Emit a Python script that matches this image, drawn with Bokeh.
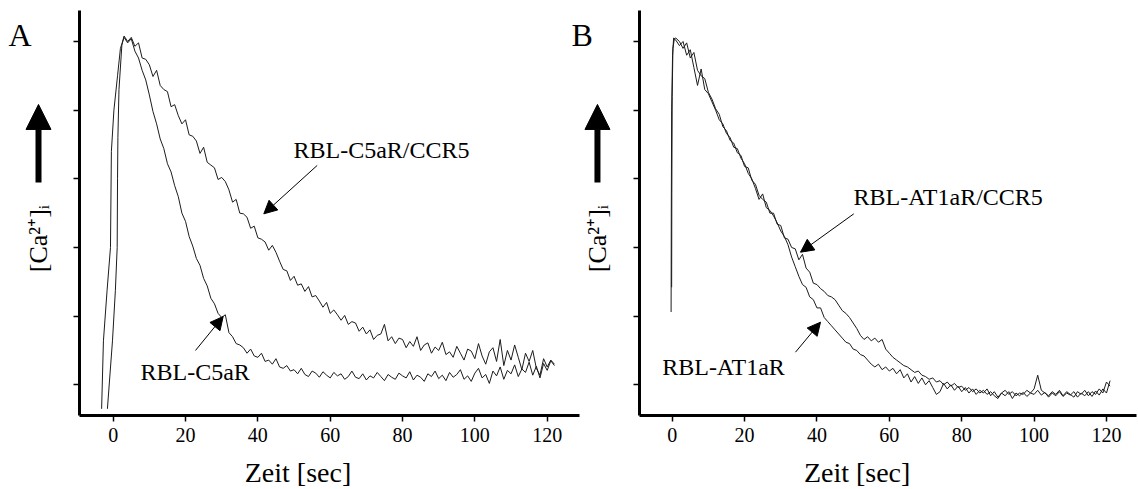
import math
from bokeh.plotting import figure
from bokeh.models import Range1d, Label, Arrow, NormalHead, FixedTicker, LinearAxis
from bokeh.embed import file_html
from bokeh.resources import INLINE

SERIF = "Liberation Serif"

# ---------------- data ----------------
x_ticks = [0, 20, 40, 60, 80, 100, 120]
y_ticks = [0, 1, 2, 3, 4, 5]

# Panel A – rising phase (time in s, relative [Ca2+]i)
a1_rise_t = [-3.2, -2.7, -1.7, -0.75, -0.5, 0.2, 1.2, 2.0]
a1_rise_v = [-0.35, 0.64, 1.37, 2.0, 3.4, 4.0, 4.5, 4.9]
a2_rise_t = [-1.6, -0.2, 0.6, 1.1, 1.2, 1.3, 1.6, 2.4]
a2_rise_v = [-0.35, 0.64, 1.37, 2.0, 3.0, 3.6, 4.3, 4.95]

# Panel A – decay, sampled every second from t = 3 s to t = 122 s
a_decay_t = list(range(3, 123))
a1_decay_v = [  # RBL-C5aR
    5.06, 4.98, 5.04, 4.86, 4.76, 4.58, 4.44, 4.22, 3.98, 3.80,
    3.58, 3.44, 3.22, 3.10, 2.90, 2.74, 2.50, 2.38, 2.16, 2.02,
    1.84, 1.74, 1.55, 1.44, 1.26, 1.18, 1.04, 0.98, 1.02, 0.76,
    0.70, 0.60, 0.58, 0.54, 0.46, 0.52, 0.42, 0.40, 0.46, 0.34,
    0.36, 0.30, 0.38, 0.26, 0.24, 0.28, 0.20, 0.22, 0.16, 0.24,
    0.15, 0.12, 0.20, 0.17, 0.11, 0.19, 0.14, 0.10, 0.18, 0.13,
    0.16, 0.08, 0.12, 0.20, 0.11, 0.09, 0.16, 0.07, 0.13, 0.10,
    0.18, 0.12, 0.06, 0.15, 0.11, 0.08, 0.17, 0.13, 0.10, 0.19,
    0.07, 0.14, 0.11, 0.05, 0.16, 0.12, 0.20, 0.09, 0.14, 0.06,
    0.18, 0.11, 0.15, 0.22, 0.08, 0.13, 0.05, 0.17, 0.24, 0.10,
    0.15, 0.02, 0.20, 0.13, 0.26, 0.08, 0.21, 0.16, 0.29, 0.12,
    0.23, 0.18, 0.33, 0.14, 0.27, 0.10, 0.31, 0.21, 0.35, 0.28,
]
a2_decay_v = [  # RBL-C5aR/CCR5
    5.08, 5.00, 5.06, 4.93, 4.98, 4.76, 4.74, 4.66, 4.49, 4.58,
    4.36, 4.30, 4.27, 4.05, 4.08, 3.92, 3.80, 3.86, 3.64, 3.62,
    3.55, 3.37, 3.46, 3.24, 3.20, 3.16, 2.99, 3.02, 2.96, 2.84,
    2.66, 2.70, 2.50, 2.49, 2.44, 2.28, 2.31, 2.14, 2.12, 2.08,
    1.96, 2.03, 1.93, 1.80, 1.68, 1.66, 1.52, 1.58, 1.45, 1.47,
    1.36, 1.43, 1.28, 1.30, 1.22, 1.13, 1.20, 1.04, 1.09, 1.02,
    0.94, 1.01, 0.88, 0.92, 0.90, 0.78, 0.84, 0.74, 0.80, 0.66,
    0.72, 0.74, 0.88, 0.64, 0.70, 0.60, 0.68, 0.66, 0.54, 0.63,
    0.56, 0.70, 0.50, 0.58, 0.61, 0.46, 0.55, 0.50, 0.62, 0.44,
    0.48, 0.40, 0.56, 0.46, 0.36, 0.52, 0.49, 0.38, 0.60, 0.42,
    0.30, 0.48, 0.54, 0.34, 0.66, 0.28, 0.50, 0.36, 0.58, 0.40,
    0.22, 0.46, 0.34, 0.50, 0.24, 0.14, 0.38, 0.26, 0.36, 0.30,
]

# Panel B – rising phase
b1_rise_t = [-0.3, -0.25, -0.15, 0.1, 0.4]
b1_rise_v = [1.06, 2.5, 4.0, 4.8, 5.05]
b2_rise_t = [-0.15, -0.1, 0.0, 0.2, 0.6]
b2_rise_v = [1.42, 2.8, 4.2, 4.9, 5.04]

# Panel B – decay, sampled every second from t = 1 s to t = 121 s
b_decay_t = list(range(1, 122))
b1_decay_v = [  # RBL-AT1aR
    5.02, 4.94, 5.00, 4.80, 4.88, 4.62, 4.36, 4.60, 4.30, 4.24,
    4.12, 4.00, 3.86, 3.80, 3.66, 3.60, 3.46, 3.44, 3.30, 3.22,
    3.08, 3.00, 2.86, 2.70, 2.78, 2.58, 2.54, 2.46, 2.36, 2.24,
    2.16, 2.04, 1.86, 1.72, 1.58, 1.46, 1.42, 1.28, 1.24, 1.12,
    1.12, 0.98, 0.92, 0.86, 0.80, 0.74, 0.68, 0.62, 0.60, 0.52,
    0.50, 0.44, 0.42, 0.36, 0.30, 0.26, 0.30, 0.22, 0.26, 0.20,
    0.24, 0.16, 0.22, 0.10, 0.16, 0.04, 0.12, 0.02, 0.10, 0.00,
    0.06, -0.04, -0.14, -0.10, 0.02, -0.06, 0.00, -0.08, -0.02, -0.10,
    -0.04, -0.12, -0.06, -0.14, -0.08, -0.12, -0.06, -0.16, -0.10, -0.18,
    -0.12, -0.16, -0.10, -0.20, -0.12, -0.16, -0.11, -0.17, -0.12, -0.14,
    -0.08, -0.15, -0.11, -0.18, -0.12, -0.16, -0.10, -0.17, -0.12, -0.15,
    -0.10, -0.18, -0.12, -0.16, -0.10, -0.17, -0.09, -0.15, -0.06, -0.12,
    0.06,
]
b2_decay_v = [  # RBL-AT1aR/CCR5
    5.05, 5.00, 4.90, 4.98, 4.76, 4.84, 4.58, 4.50, 4.46, 4.26,
    4.16, 4.02, 3.94, 3.76, 3.70, 3.56, 3.52, 3.38, 3.34, 3.18,
    3.16, 2.98, 2.92, 2.76, 2.70, 2.66, 2.50, 2.50, 2.34, 2.32,
    2.14, 2.12, 2.00, 1.98, 1.82, 1.90, 1.70, 1.64, 1.48, 1.46,
    1.40, 1.36, 1.30, 1.28, 1.24, 1.16, 1.08, 1.04, 0.98, 0.90,
    0.82, 0.72, 0.66, 0.70, 0.64, 0.68, 0.62, 0.66, 0.52, 0.46,
    0.40, 0.36, 0.32, 0.28, 0.26, 0.22, 0.18, 0.20, 0.14, 0.12,
    0.08, 0.10, 0.04, 0.06, 0.00, 0.04, -0.02, 0.02, -0.04, -0.02,
    -0.08, -0.04, -0.10, -0.06, -0.12, -0.08, -0.14, -0.10, -0.16, -0.20,
    -0.12, -0.08, -0.14, -0.10, -0.16, -0.12, -0.14, -0.08, -0.12, -0.06,
    0.14, -0.08, -0.12, -0.16, -0.10, -0.14, -0.08, -0.16, -0.10, -0.14,
    -0.18, -0.10, -0.14, -0.08, -0.16, -0.10, -0.14, -0.06, -0.12, 0.04,
    -0.02,
]

panel_letters = ["A", "B"]
y_label = "[Ca\u00b2\u207a]\u1d62"
x_label = "Zeit [sec]"
labels_A = ["RBL-C5aR/CCR5", "RBL-C5aR"]
labels_B = ["RBL-AT1aR/CCR5", "RBL-AT1aR"]

# ---------------- layout ----------------
# One canvas; the frame fills it. Panel A uses the default x range, panel B the
# extra range "B". Both axis pairs sit at fixed data locations with bounds.
A_X = (-9.3, 128.9)
B_X = (-9.03, 128.3)
Y_SPAN = (-0.447, 5.452)

p = figure(width=1138, height=489, output_backend="svg", toolbar_location=None,
           x_range=Range1d(-31.16, 283.49), y_range=Range1d(-1.525, 5.597),
           x_axis_location=None, y_axis_location=None,
           min_border_left=0, min_border_right=0, min_border_top=0, min_border_bottom=0)
p.extra_x_ranges = {"B": Range1d(-185.6, 128.85)}
p.outline_line_color = None
p.grid.visible = False
p.background_fill_color = "white"
p.border_fill_color = "white"


def style_axis(ax, labels=True):
    ax.axis_line_width = 3
    ax.axis_line_color = "black"
    ax.major_tick_line_width = 1.5
    ax.major_tick_line_color = "black"
    ax.major_tick_out = 6
    ax.major_tick_in = 0
    ax.minor_tick_line_color = None
    if labels:
        ax.major_label_text_font = SERIF
        ax.major_label_text_font_size = "20px"
        ax.major_label_text_color = "black"
        ax.major_label_standoff = 7


for rng_name, xspan in (("default", A_X), ("B", B_X)):
    xa = LinearAxis(x_range_name=rng_name, fixed_location=Y_SPAN[0], bounds=xspan,
                    ticker=FixedTicker(ticks=x_ticks))
    style_axis(xa)
    p.add_layout(xa, "below")
    ya = LinearAxis(x_range_name=rng_name, fixed_location=xspan[0], bounds=Y_SPAN,
                    ticker=FixedTicker(ticks=y_ticks),
                    major_label_overrides={t: "" for t in y_ticks})
    style_axis(ya, labels=False)
    p.add_layout(ya, "left")

TRACE = "#1c1c1c"


def label(rng, x, y, s, size="24px", align="left", baseline="alphabetic", angle=0.0):
    p.add_layout(Label(x=x, y=y, x_range_name=rng, text=s, text_font=SERIF,
                       text_font_size=size, text_align=align, text_baseline=baseline,
                       angle=angle, text_color="black"))


def arrow(rng, xs, ys, xe, ye, size, width):
    p.add_layout(Arrow(end=NormalHead(size=size, fill_color="black", line_color="black"),
                       x_start=xs, y_start=ys, x_end=xe, y_end=ye, x_range_name=rng,
                       line_width=width, line_color="black"))


def decorate(rng, letter, letter_x, ylab_x):
    label(rng, letter_x, 5.10, letter, size="32px")
    label(rng, ylab_x, 2.13, y_label, size="26px", align="center", baseline="middle",
          angle=math.pi / 2)
    arrow(rng, ylab_x, 2.946, ylab_x, 4.083, 25, 6)
    label(rng, 51.1, -1.284, x_label, size="28px", align="center")


# ---------------- panel A ----------------
p.line(a1_rise_t + a_decay_t, a1_rise_v + a1_decay_v, line_color=TRACE, line_width=1)
p.line(a2_rise_t + a_decay_t, a2_rise_v + a2_decay_v, line_color=TRACE, line_width=1)
decorate("default", panel_letters[0], -28.95, -20.65)
label("default", 49.85, 3.415, labels_A[0])
arrow("default", 56.4, 3.195, 41.64, 2.49, 13, 1)
label("default", 7.55, 0.182, labels_A[1])
arrow("default", 22.76, 0.5, 30.41, 0.995, 13, 1)

# ---------------- panel B ----------------
p.line(b1_rise_t + b_decay_t, b1_rise_v + b1_decay_v, x_range_name="B",
       line_color=TRACE, line_width=1)
p.line(b2_rise_t + b_decay_t, b2_rise_v + b2_decay_v, x_range_name="B",
       line_color=TRACE, line_width=1)
decorate("B", panel_letters[1], -27.83, -20.65)
label("B", 50.1, 2.73, labels_B[0])
arrow("B", 50.18, 2.49, 35.45, 1.931, 13, 1)
label("B", -2.76, 0.254, labels_B[1])
arrow("B", 34.07, 0.475, 40.98, 0.912, 13, 1)

open("out.html", "w").write(file_html(p, INLINE))
